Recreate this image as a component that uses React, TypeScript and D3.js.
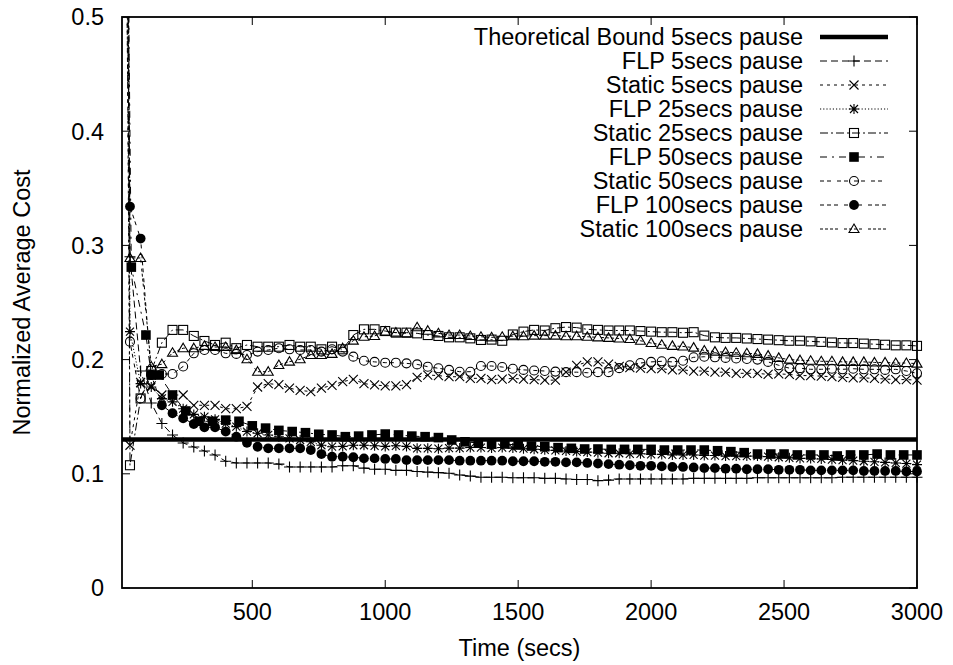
import React from 'react';
import * as d3 from 'd3';

// sample times (secs)
const T40 = [10, 40, 80, 120, 160, 200, 240, 280, 320, 360, 400, 440, 480, 520, 560, 600, 640, 680, 720, 760, 800,
  840, 880, 920, 960, 1000, 1040, 1080, 1120, 1160, 1200, 1240, 1280, 1320, 1360, 1400, 1440, 1480, 1520, 1560, 1600,
  1640, 1680, 1720, 1760, 1800, 1840, 1880, 1920, 1960, 2000, 2040, 2080, 2120, 2160, 2200, 2240, 2280, 2320, 2360, 2400,
  2440, 2480, 2520, 2560, 2600, 2640, 2680, 2720, 2760, 2800, 2840, 2880, 2920, 2960, 3000];
const T50 = [10, 45, 100, 120, 150, 200, 250, 300, 350, 400, 450, 500, 550, 600, 650, 700, 750, 800, 850, 900, 950,
  1000, 1050, 1100, 1150, 1200, 1250, 1300, 1350, 1400, 1450, 1500, 1550, 1600, 1650, 1700, 1750, 1800, 1850, 1900, 1950,
  2000, 2050, 2100, 2150, 2200, 2250, 2300, 2350, 2400, 2450, 2500, 2550, 2600, 2650, 2700, 2750, 2800, 2850, 2900, 2950, 3000];

const BOUND = 0.13;

const flp5 = [1.6, 0.29, 0.19, 0.162, 0.144, 0.134, 0.127, 0.1235, 0.12, 0.1165, 0.111,
  0.1095, 0.1095, 0.1095, 0.1095, 0.1085, 0.106, 0.106, 0.106, 0.106, 0.106,
  0.107, 0.107, 0.105, 0.104, 0.104, 0.103, 0.103, 0.102, 0.1015, 0.101,
  0.1005, 0.099, 0.098, 0.097, 0.097, 0.097, 0.0965, 0.0965, 0.0965, 0.096,
  0.096, 0.0955, 0.095, 0.095, 0.094, 0.0945, 0.0955, 0.0955, 0.0955, 0.0955,
  0.0955, 0.0955, 0.0955, 0.096, 0.096, 0.096, 0.096, 0.096, 0.096, 0.0965,
  0.0965, 0.0965, 0.0965, 0.0965, 0.0965, 0.0965, 0.0965, 0.097, 0.097, 0.097,
  0.097, 0.097, 0.097, 0.097, 0.097];

const static5 = [1.2, 0.125, 0.18, 0.177, 0.169, 0.169, 0.169, 0.16, 0.16, 0.16, 0.157,
  0.157, 0.159, 0.176, 0.179, 0.178, 0.175, 0.173, 0.172, 0.175, 0.1775,
  0.1807, 0.1827, 0.179, 0.1778, 0.177, 0.177, 0.178, 0.1845, 0.1865, 0.186,
  0.185, 0.185, 0.1836, 0.1836, 0.1825, 0.183, 0.1835, 0.183, 0.1825, 0.182,
  0.182, 0.189, 0.195, 0.198, 0.198, 0.196, 0.194, 0.193, 0.1925, 0.192,
  0.192, 0.191, 0.191, 0.19, 0.19, 0.189, 0.189, 0.188, 0.188, 0.188,
  0.187, 0.1875, 0.187, 0.186, 0.186, 0.1855, 0.185, 0.1845, 0.184, 0.184,
  0.1835, 0.183, 0.1825, 0.1825, 0.182];

const flp25 = [1.4, 0.2245, 0.179, 0.176, 0.166, 0.163, 0.157, 0.152, 0.15, 0.1477, 0.144,
  0.1413, 0.137, 0.1355, 0.134, 0.1325, 0.131, 0.1296, 0.128, 0.125, 0.1237,
  0.124, 0.125, 0.125, 0.1245, 0.124, 0.1245, 0.124, 0.1223, 0.1223, 0.122,
  0.1225, 0.1225, 0.123, 0.123, 0.1225, 0.123, 0.1225, 0.122, 0.1215, 0.121,
  0.1205, 0.12, 0.1195, 0.119, 0.1185, 0.118, 0.118, 0.1175, 0.1175, 0.117,
  0.117, 0.1165, 0.1165, 0.1165, 0.116, 0.116, 0.1155, 0.1155, 0.1155, 0.1155,
  0.115, 0.1145, 0.114, 0.1135, 0.1135, 0.113, 0.1125, 0.112, 0.1115, 0.111,
  0.1105, 0.11, 0.1095, 0.109, 0.108];

const static25 = [1.8, 0.1075, 0.166, 0.19, 0.2148, 0.226, 0.226, 0.2207, 0.2163, 0.2128, 0.2148,
  0.21, 0.2128, 0.2113, 0.2113, 0.2113, 0.2128, 0.2113, 0.2113, 0.209, 0.2113,
  0.209, 0.2215, 0.2265, 0.2265, 0.225, 0.2236, 0.2236, 0.223, 0.2215, 0.2207,
  0.2195, 0.2195, 0.2186, 0.2172, 0.2175, 0.2165, 0.222, 0.2245, 0.226, 0.2255,
  0.2275, 0.2285, 0.228, 0.2265, 0.226, 0.2255, 0.2255, 0.2255, 0.225, 0.2245,
  0.224, 0.224, 0.2235, 0.224, 0.221, 0.2195, 0.219, 0.219, 0.2185, 0.218,
  0.2175, 0.217, 0.2165, 0.2165, 0.216, 0.2155, 0.215, 0.2145, 0.2145, 0.214,
  0.2135, 0.213, 0.2125, 0.2125, 0.212];

const flp50 = [1.1, 0.281, 0.2215, 0.1865, 0.1865,
  0.169, 0.155, 0.146, 0.146, 0.147, 0.146, 0.142, 0.14, 0.138, 0.137,
  0.136, 0.1346, 0.134, 0.1325, 0.133, 0.134, 0.1348, 0.134, 0.133, 0.1325,
  0.1317, 0.1296, 0.128, 0.127, 0.1261, 0.1261, 0.1252, 0.1243, 0.1237, 0.1229,
  0.1223, 0.1217, 0.1217, 0.1214, 0.1214, 0.1214, 0.1214, 0.1208, 0.1208, 0.1208,
  0.1208, 0.1202, 0.1194, 0.1185, 0.1173, 0.1173, 0.1173, 0.1165, 0.1165, 0.1165,
  0.1156, 0.1165, 0.1165, 0.1173, 0.1165, 0.1165, 0.1165];

const static50 = [1.0, 0.2157, 0.166, 0.1865, 0.1874, 0.1874, 0.194, 0.2055, 0.2084, 0.2084, 0.2055,
  0.205, 0.204, 0.207, 0.2084, 0.21, 0.209, 0.2084, 0.2084, 0.207, 0.209,
  0.207, 0.2026, 0.199, 0.198, 0.1973, 0.1973, 0.1967, 0.1958, 0.1938, 0.1924,
  0.191, 0.1894, 0.1894, 0.1944, 0.1944, 0.1935, 0.192, 0.191, 0.1905, 0.19,
  0.1895, 0.189, 0.189, 0.1885, 0.189, 0.189, 0.1925, 0.195, 0.197, 0.198,
  0.1985, 0.198, 0.199, 0.202, 0.2025, 0.202, 0.2015, 0.201, 0.2005, 0.2,
  0.198, 0.195, 0.1925, 0.1925, 0.1915, 0.1915, 0.192, 0.1915, 0.192, 0.1915,
  0.1915, 0.191, 0.1915, 0.19, 0.188];

const flp100 = [0.9, 0.334, 0.306, 0.1865, 0.16, 0.153, 0.1486, 0.1436, 0.1407, 0.1407, 0.137,
  0.1325, 0.1272, 0.1237, 0.1223, 0.1223, 0.1223, 0.1223, 0.1208, 0.1173, 0.115,
  0.115, 0.1145, 0.1135, 0.1135, 0.113, 0.113, 0.112, 0.112, 0.112, 0.112,
  0.112, 0.1115, 0.1115, 0.1115, 0.1115, 0.1115, 0.111, 0.111, 0.111, 0.1105,
  0.1105, 0.11, 0.11, 0.1095, 0.109, 0.1085, 0.108, 0.1075, 0.107, 0.107,
  0.1065, 0.106, 0.106, 0.1055, 0.105, 0.105, 0.1045, 0.1045, 0.104, 0.104,
  0.104, 0.1035, 0.1035, 0.1035, 0.103, 0.103, 0.103, 0.103, 0.103, 0.1025,
  0.1025, 0.1025, 0.1025, 0.102, 0.102];

const static100 = [1.3, 0.289, 0.289, 0.194, 0.196, 0.206, 0.21, 0.21, 0.212, 0.211, 0.211,
  0.2084, 0.2003, 0.1894, 0.1894, 0.1953, 0.1982, 0.2003, 0.204, 0.204, 0.205,
  0.21, 0.2166, 0.22, 0.2207, 0.2245, 0.2236, 0.223, 0.2283, 0.2253, 0.223,
  0.2215, 0.2215, 0.2207, 0.22, 0.2195, 0.22, 0.2205, 0.2205, 0.221, 0.221,
  0.221, 0.2205, 0.2205, 0.22, 0.2195, 0.219, 0.2185, 0.218, 0.2165, 0.2145,
  0.213, 0.212, 0.2115, 0.2105, 0.208, 0.207, 0.2065, 0.206, 0.2055, 0.205,
  0.2035, 0.2015, 0.2, 0.1995, 0.199, 0.1985, 0.1985, 0.198, 0.198, 0.198,
  0.1975, 0.1975, 0.197, 0.197, 0.1965];

const yTicks = [0, 0.1, 0.2, 0.3, 0.4, 0.5];
const yTickLabels = ['0', '0.1', '0.2', '0.3', '0.4', '0.5'];
const xTicks = [500, 1000, 1500, 2000, 2500, 3000];
const boundLabel = 'Theoretical Bound 5secs pause';

const SERIES = [
  { name: 'FLP 5secs pause', t: T40, v: flp5, dash: '7,4', marker: 'plus' },
  { name: 'Static 5secs pause', t: T40, v: static5, dash: '3,4', marker: 'cross' },
  { name: 'FLP 25secs pause', t: T40, v: flp25, dash: '1.2,2', marker: 'star' },
  { name: 'Static 25secs pause', t: T40, v: static25, dash: '8,3,2,3', marker: 'box' },
  { name: 'FLP 50secs pause', t: T50, v: flp50, dash: '7,5,2,5', marker: 'fbox' },
  { name: 'Static 50secs pause', t: T40, v: static50, dash: '4,3,4,6', marker: 'circle' },
  { name: 'FLP 100secs pause', t: T40, v: flp100, dash: '4,3,4,3,4,6', marker: 'fcircle' },
  { name: 'Static 100secs pause', t: T40, v: static100, dash: '3,2,3,2,3,2,3,6', marker: 'tri' },
];

const W = 953, H = 665;
const L = 122, R = 917, TOP = 17, BOT = 588;
const FONT = '"Liberation Sans", Arial, Helvetica, sans-serif';
const FS = 23.5;

function Marker({ type, cx, cy }: { type: string; cx: number; cy: number }) {
  const s = 5;
  const sw = 1.1;
  switch (type) {
    case 'plus':
      return <path d={`M${cx - 5.5},${cy}H${cx + 5.5}M${cx},${cy - 5.5}V${cy + 5.5}`} stroke="#000" strokeWidth={sw} fill="none" />;
    case 'cross':
      return <path d={`M${cx - 4.5},${cy - 4.5}L${cx + 4.5},${cy + 4.5}M${cx - 4.5},${cy + 4.5}L${cx + 4.5},${cy - 4.5}`} stroke="#000" strokeWidth={sw} fill="none" />;
    case 'star':
      return <path d={`M${cx - 5},${cy}H${cx + 5}M${cx},${cy - 5}V${cy + 5}M${cx - 4},${cy - 4}L${cx + 4},${cy + 4}M${cx - 4},${cy + 4}L${cx + 4},${cy - 4}`} stroke="#000" strokeWidth={sw} fill="none" />;
    case 'box':
      return <rect x={cx - 4.5} y={cy - 4.5} width={9} height={9} stroke="#000" strokeWidth={sw} fill="none" />;
    case 'fbox':
      return <rect x={cx - 4.8} y={cy - 4.8} width={9.6} height={9.6} fill="#000" />;
    case 'circle':
      return <circle cx={cx} cy={cy} r={4.5} stroke="#000" strokeWidth={sw} fill="none" />;
    case 'fcircle':
      return <circle cx={cx} cy={cy} r={4.9} fill="#000" />;
    case 'tri':
      return <path d={`M${cx},${cy - s}L${cx + s},${cy + 3.5}L${cx - s},${cy + 3.5}Z`} stroke="#000" strokeWidth={sw} fill="none" />;
    default:
      return null;
  }
}

export default function App() {
  const x = d3.scaleLinear().domain([10, 3000]).range([L, R]);
  const y = d3.scaleLinear().domain([0, 0.5]).range([BOT, TOP]);
  const line = d3.line<[number, number]>().x(d => x(d[0])).y(d => y(d[1]));

  const series = SERIES.map(s => {
    const n = Math.min(s.t.length, s.v.length);
    const pts: [number, number][] = [];
    for (let i = 0; i < n; i++) pts.push([s.t[i], s.v[i]]);
    return { ...s, pts };
  });

  const legendX = 803, sampleX0 = 820, sampleX1 = 888, legendY0 = 37, legendDY = 24;

  return (
    <svg width={W} height={H} style={{ position: 'absolute', left: 0, top: 0, background: '#fff' }}
      fontFamily={FONT} fontSize={FS}>
      <defs>
        <clipPath id="plotclip">
          <rect x={L} y={TOP} width={R - L} height={BOT - TOP} />
        </clipPath>
      </defs>
      <rect x={0} y={0} width={W} height={H} fill="#fff" />

      {/* ticks */}
      {yTicks.map((t, i) => (
        <g key={'yt' + i}>
          <line x1={L} x2={L + 8} y1={y(t)} y2={y(t)} stroke="#000" strokeWidth={1} />
          <line x1={R} x2={R - 8} y1={y(t)} y2={y(t)} stroke="#000" strokeWidth={1} />
          <text x={104} y={y(t)} dy="0.36em" textAnchor="end">{yTickLabels[i]}</text>
        </g>
      ))}
      {xTicks.map(t => (
        <g key={'xt' + t}>
          <line x1={x(t)} x2={x(t)} y1={BOT} y2={BOT - 8} stroke="#000" strokeWidth={1} />
          <line x1={x(t)} x2={x(t)} y1={TOP} y2={TOP + 8} stroke="#000" strokeWidth={1} />
          <text x={x(t)} y={612} dy="0.36em" textAnchor="middle">{t}</text>
        </g>
      ))}

      {/* data */}
      <g clipPath="url(#plotclip)">
        <line x1={x(10)} x2={x(3000)} y1={y(BOUND)} y2={y(BOUND)} stroke="#000" strokeWidth={4.5} />
        {series.map(s => (
          <path key={s.name} d={line(s.pts) || ''} fill="none" stroke="#000" strokeWidth={1} strokeDasharray={s.dash} />
        ))}
      </g>
      <g>
        {series.map(s => (
          <g key={s.name + 'm'}>
            {s.pts.filter(p => p[0] >= 10 && p[0] <= 3000 && p[1] >= 0 && p[1] <= 0.5).map((p, i) => (
              <Marker key={i} type={s.marker} cx={x(p[0])} cy={y(p[1])} />
            ))}
          </g>
        ))}
      </g>

      {/* border */}
      <rect x={L} y={TOP} width={R - L} height={BOT - TOP} fill="none" stroke="#000" strokeWidth={1.8} />

      {/* legend */}
      <g>
        <text x={legendX} y={legendY0} dy="0.36em" textAnchor="end">{boundLabel}</text>
        <line x1={sampleX0} x2={sampleX1} y1={legendY0} y2={legendY0} stroke="#000" strokeWidth={4.5} />
        {series.map((s, i) => {
          const ly = legendY0 + legendDY * (i + 1);
          return (
            <g key={s.name + 'l'}>
              <text x={legendX} y={ly} dy="0.36em" textAnchor="end">{s.name}</text>
              <line x1={sampleX0} x2={sampleX1} y1={ly} y2={ly} stroke="#000" strokeWidth={1} strokeDasharray={s.dash} />
              <Marker type={s.marker} cx={(sampleX0 + sampleX1) / 2} cy={ly} />
            </g>
          );
        })}
      </g>

      {/* axis titles */}
      <text x={(L + R) / 2} y={648} dy="0.36em" textAnchor="middle">Time (secs)</text>
      <text transform={`translate(22,${(TOP + BOT) / 2}) rotate(-90)`} dy="0.36em" textAnchor="middle">Normalized Average Cost</text>
    </svg>
  );
}
